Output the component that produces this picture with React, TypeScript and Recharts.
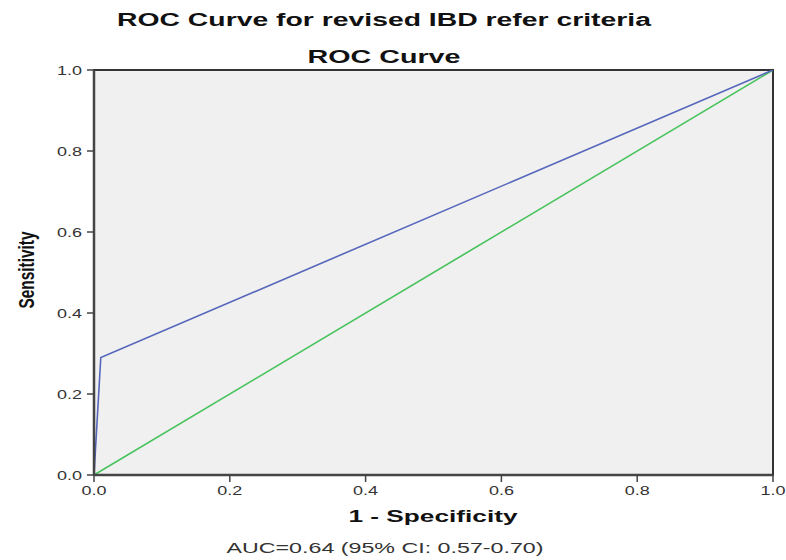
import React from 'react';
import { LineChart, Line, XAxis, YAxis, ReferenceArea } from 'recharts';

const rocX = [0, 0.01, 1];
const rocY = [0, 0.29, 1];
const refX = [0, 1];
const refY = [0, 1];
const tickValues = [0, 0.2, 0.4, 0.6, 0.8, 1];
const tickLabels = ['0.0', '0.2', '0.4', '0.6', '0.8', '1.0'];
const titleText = 'ROC Curve for revised IBD refer criteria';
const subtitleText = 'ROC Curve';
const xLabelText = '1 - Specificity';
const yLabelText = 'Sensitivity';
const aucText = 'AUC=0.64 (95% CI: 0.57-0.70)';

const rocData = rocX.map((x, i) => ({ x, y: rocY[i] }));
const refData = refX.map((x, i) => ({ x, y: refY[i] }));

const FONT = '"Liberation Sans", Arial, sans-serif';

const labelFor = (v: number) => {
  const i = tickValues.findIndex((t) => Math.abs(t - v) < 1e-9);
  return i >= 0 ? tickLabels[i] : String(v);
};

const XTick = (props: any) => {
  const { x, y, payload } = props;
  return (
    <text x={x} y={y + 11} textAnchor="middle" fontSize={12} fontFamily={FONT} fill="#333" textLength={25} lengthAdjust="spacingAndGlyphs">
      {labelFor(payload.value)}
    </text>
  );
};

const YTick = (props: any) => {
  const { x, y, payload } = props;
  return (
    <text x={x - 3} y={y + 4.5} textAnchor="end" fontSize={12} fontFamily={FONT} fill="#333" textLength={25} lengthAdjust="spacingAndGlyphs">
      {labelFor(payload.value)}
    </text>
  );
};

export default function App() {
  return (
    <div style={{ position: 'absolute', left: 0, top: 0, width: 786, height: 560, background: '#fff' }}>
      <LineChart width={786} height={560} margin={{ top: 70, right: 13, bottom: 50, left: 34 }}>
        <ReferenceArea x1={0} x2={1} y1={0} y2={1} fill="#f0f0f0" fillOpacity={1} stroke="#333" strokeWidth={2} ifOverflow="visible" />
        <XAxis
          type="number"
          dataKey="x"
          domain={[0, 1]}
          ticks={tickValues}
          height={35}
          tickSize={7}
          axisLine={{ stroke: '#444', strokeWidth: 2.5 }}
          tickLine={{ stroke: '#444', strokeWidth: 1.5 }}
          tick={<XTick />}
          allowDataOverflow
        />
        <YAxis
          type="number"
          dataKey="y"
          domain={[0, 1]}
          ticks={tickValues}
          width={60}
          tickSize={7}
          axisLine={{ stroke: '#444', strokeWidth: 2.5 }}
          tickLine={{ stroke: '#444', strokeWidth: 1.5 }}
          tick={<YTick />}
          allowDataOverflow
        />
        <Line data={refData} dataKey="y" type="linear" stroke="#45c25a" strokeWidth={1.6} dot={false} isAnimationActive={false} />
        <Line data={rocData} dataKey="y" type="linear" stroke="#5566bb" strokeWidth={1.6} dot={false} isAnimationActive={false} />
      </LineChart>
      <svg width={786} height={560} style={{ position: 'absolute', left: 0, top: 0, pointerEvents: 'none' }}>
        <text x={384} y={26} textAnchor="middle" fontSize={18} fontWeight="bold" fontFamily={FONT} fill="#111" textLength={534} lengthAdjust="spacingAndGlyphs">{titleText}</text>
        <text x={384} y={63} textAnchor="middle" fontSize={18} fontWeight="bold" fontFamily={FONT} fill="#111" textLength={153} lengthAdjust="spacingAndGlyphs">{subtitleText}</text>
        <text x={433} y={522} textAnchor="middle" fontSize={17} fontWeight="bold" fontFamily={FONT} fill="#111" textLength={169} lengthAdjust="spacingAndGlyphs">{xLabelText}</text>
        <text x={385} y={553} textAnchor="middle" fontSize={15} fontFamily={FONT} fill="#333" textLength={317} lengthAdjust="spacingAndGlyphs">{aucText}</text>
        <text x={34} y={270} transform="rotate(-90 34 270)" textAnchor="middle" fontSize={22} fontWeight="bold" fontFamily={FONT} fill="#111" textLength={77} lengthAdjust="spacingAndGlyphs">{yLabelText}</text>
      </svg>
    </div>
  );
}
